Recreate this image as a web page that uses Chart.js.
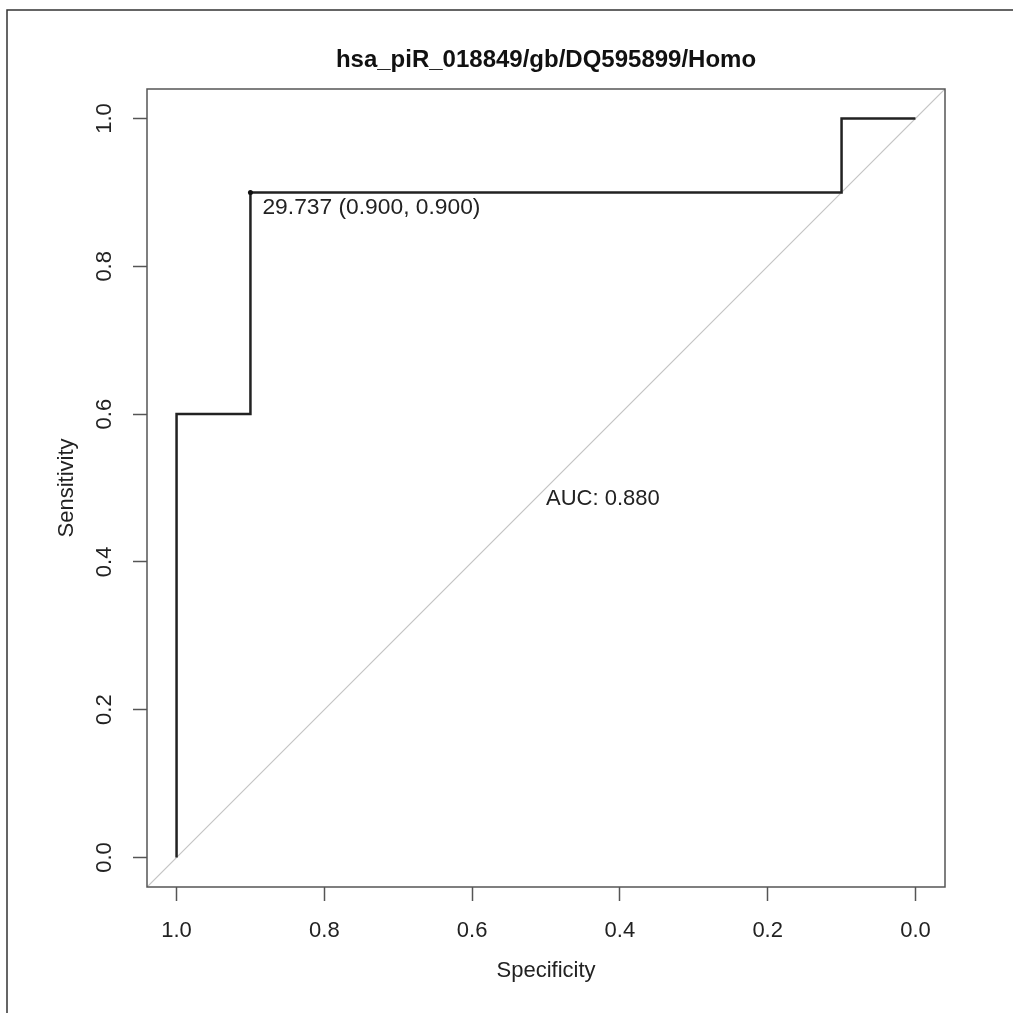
<!DOCTYPE html>
<html>
<head>
<meta charset="utf-8">
<script src="https://cdn.jsdelivr.net/npm/chart.js@4/dist/chart.umd.min.js"></script>
<style>
  body { margin: 0; background: #fff; }
</style>
</head>
<body>
<canvas id="roc" width="1013" height="1013"></canvas>
<script>
// ROC curve
const specificity = [1.0, 1.0, 0.9, 0.9, 0.1, 0.1, 0.0]
const sensitivity = [0.0, 0.6, 0.6, 0.9, 0.9, 1.0, 1.0]
const bestPoint = [0.9, 0.9]
const bestLabel = "29.737 (0.900, 0.900)"
const aucLabel = "AUC: 0.880"
const aucPos = [0.423, 0.485]
const xTicks = [1.0, 0.8, 0.6, 0.4, 0.2, 0.0]
const yTicks = [0.0, 0.2, 0.4, 0.6, 0.8, 1.0]
const titleText = "hsa_piR_018849/gb/DQ595899/Homo"

const FONT = '"Liberation Sans", Arial, Helvetica, sans-serif'

const rocPoints = specificity.map((s, i) => ({x: s, y: sensitivity[i]}))

const decorations = {
  id: 'decorations',
  afterDraw(chart) {
    const ctx = chart.ctx
    const a = chart.chartArea
    const xs = chart.scales.x
    const ys = chart.scales.y
    ctx.save()

    // outer frame (left and top only)
    ctx.strokeStyle = '#333'
    ctx.lineWidth = 1.5
    ctx.beginPath()
    ctx.moveTo(7, 1013)
    ctx.lineTo(7, 10)
    ctx.lineTo(1013, 10)
    ctx.stroke()

    // plot box
    ctx.strokeStyle = '#555'
    ctx.lineWidth = 1.5
    ctx.strokeRect(a.left, a.top, a.right - a.left, a.bottom - a.top)

    ctx.fillStyle = '#222'
    ctx.font = '22px ' + FONT

    // x tick labels
    ctx.textAlign = 'center'
    ctx.textBaseline = 'alphabetic'
    xs.ticks.forEach(t => {
      ctx.fillText(t.value.toFixed(1), xs.getPixelForValue(t.value), 937)
    })

    // y tick labels, rotated
    ys.ticks.forEach(t => {
      ctx.save()
      ctx.translate(111, ys.getPixelForValue(t.value))
      ctx.rotate(-Math.PI / 2)
      ctx.fillText(t.value.toFixed(1), 0, 0)
      ctx.restore()
    })

    // axis titles
    ctx.fillText('Specificity', (a.left + a.right) / 2, 977)
    ctx.save()
    ctx.translate(73, (a.top + a.bottom) / 2)
    ctx.rotate(-Math.PI / 2)
    ctx.fillText('Sensitivity', 0, 0)
    ctx.restore()

    // annotations
    ctx.textAlign = 'center'
    ctx.textBaseline = 'middle'
    ctx.fillText(aucLabel, xs.getPixelForValue(aucPos[0]), ys.getPixelForValue(aucPos[1]))
    ctx.font = '22.8px ' + FONT
    ctx.textAlign = 'left'
    ctx.textBaseline = 'alphabetic'
    ctx.fillText(bestLabel, xs.getPixelForValue(bestPoint[0]) + 12, ys.getPixelForValue(bestPoint[1]) + 22)

    // title
    ctx.font = 'bold 24px ' + FONT
    ctx.textAlign = 'center'
    ctx.fillStyle = '#111'
    ctx.fillText(titleText, (a.left + a.right) / 2, 67)

    ctx.restore()
  }
}

new Chart(document.getElementById('roc'), {
  type: 'scatter',
  data: {
    datasets: [
      {
        data: [{x: bestPoint[0], y: bestPoint[1]}],
        showLine: false,
        pointRadius: 2.5,
        pointBackgroundColor: '#111',
        pointBorderWidth: 0
      },
      {
        data: rocPoints,
        showLine: true,
        borderColor: '#222',
        borderWidth: 2.5,
        pointRadius: 0,
        tension: 0
      },
      {
        data: [{x: 1.04, y: -0.04}, {x: -0.04, y: 1.04}],
        showLine: true,
        borderColor: '#c4c4c4',
        borderWidth: 1.2,
        pointRadius: 0
      }
    ]
  },
  options: {
    responsive: false,
    animation: false,
    events: [],
    layout: { padding: { left: 0, top: 89, right: 68, bottom: 0 } },
    plugins: {
      legend: { display: false },
      tooltip: { enabled: false }
    },
    scales: {
      x: {
        type: 'linear',
        reverse: true,
        min: -0.04,
        max: 1.04,
        afterBuildTicks: s => { s.ticks = xTicks.map(v => ({value: v})) },
        afterFit: s => { s.height = 126 },
        ticks: { display: false },
        border: { display: false },
        grid: {
          drawOnChartArea: false,
          drawTicks: true,
          tickLength: 14,
          tickColor: '#555',
          tickWidth: 1.5
        }
      },
      y: {
        type: 'linear',
        min: -0.04,
        max: 1.04,
        afterBuildTicks: s => { s.ticks = yTicks.map(v => ({value: v})) },
        afterFit: s => { s.width = 147 },
        ticks: { display: false },
        border: { display: false },
        grid: {
          drawOnChartArea: false,
          drawTicks: true,
          tickLength: 14,
          tickColor: '#555',
          tickWidth: 1.5
        }
      }
    }
  },
  plugins: [decorations]
})
</script>
</body>
</html>
